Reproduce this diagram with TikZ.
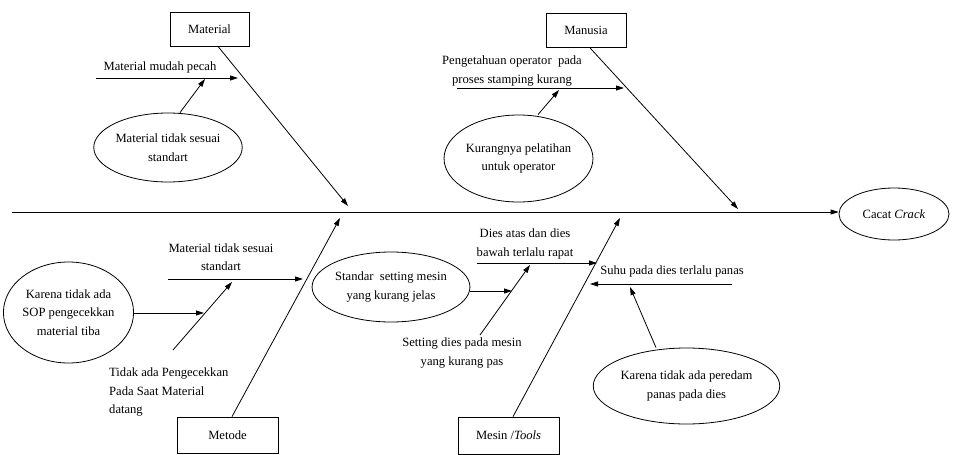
\documentclass[tikz,border=0pt]{standalone}
\usepackage{fontspec}
\setmainfont{Liberation Serif}
\usetikzlibrary{arrows.meta,shapes.geometric}
\begin{document}
\begin{tikzpicture}[x=1pt,y=-1pt,
  every node/.style={font=\fontsize{12.6}{18.5}\selectfont, inner sep=0pt},
  lbl/.style={align=center},
  catbox/.style={draw, line width=0.8pt, minimum width=#1, minimum height=34pt},
  cause/.style={draw, ellipse, line width=0.8pt, align=center},
  arr/.style={line width=0.8pt, -{Triangle[length=8pt,width=5pt]}},
  ln/.style={line width=0.8pt}]
\useasboundingbox (0,0) rectangle (953,455);

% effect
\node[cause, minimum width=110pt, minimum height=52pt] (eff) at (894,214) {Cacat \textit{Crack}};
\coordinate (sp0) at (12,212);
\draw[arr] (sp0) -- (sp0 -| eff.west);

% category boxes
\node[catbox=79pt] (mat) at (209.5,29) {Material};
\node[catbox=80pt] (man) at (586,30.5) {Manusia};
\node[catbox=101pt, minimum height=36pt] (met) at (227.5,435) {Metode};
\node[catbox=101pt, minimum height=37pt] (mes) at (508.5,435.5) {Mesin /\textit{Tools}};

% main bones
\coordinate (matT) at (348,206);
\coordinate (manT) at (738,209);
\coordinate (metT) at (340,218);
\coordinate (mesT) at (620,218);
\draw[arr] (mat.south -| 218,0) -- (matT);
\draw[arr] (man.south -| 590,0) -- (manT);
\draw[arr] (met.north -| 232,0) -- (metT);
\draw[arr] (mes.north -| 513,0) -- (mesT);

% Material
\node[lbl] (m1) at (160,67) {Material mudah pecah};
\coordinate (m1a) at (96,78);
\coordinate (m1b) at (238,78);
\draw[arr] (m1a) -- (m1b);
\node[cause, minimum width=139pt, minimum height=69pt] (m2) at (168,147.5) {Material tidak sesuai\\standart};
\coordinate (m2t) at (205,79);
\draw[arr] (m2.north -| 180,0) -- (m2t);

% Manusia
\node[lbl] (h1) at (512,71) {Pengetahuan operator~ pada\\proses stamping kurang};
\coordinate (h1a) at (457,88);
\coordinate (h1b) at (624,88);
\draw[arr] (h1a) -- (h1b);
\node[cause, minimum width=123pt, minimum height=87pt] (h2) at (518.5,158.5) {Kurangnya pelatihan\\untuk operator};
\coordinate (h2t) at (559,90);
\draw[arr] (h2.north -| 538,0) -- (h2t);

% Metode
\node[lbl] (d1) at (221,257) {Material tidak sesuai\\standart};
\coordinate (d1a) at (168,279);
\coordinate (d1b) at (303,279);
\draw[arr] (d1a) -- (d1b);
\node[align=left, anchor=west] (d2) at (109,392) {Tidak ada Pengecekkan\\Pada Saat Material\\datang};
\coordinate (d2a) at (173,350);
\coordinate (d2b) at (232,282);
\draw[arr] (d2a) -- (d2b);
\node[cause, minimum width=113pt, minimum height=101pt] (d3) at (68.5,312.5) {Karena tidak ada\\SOP pengecekkan\\material tiba};
\coordinate (d3t) at (204,313);
\draw[arr] (d3.east |- d3t) -- (d3t);

% Mesin / Tools
\node[lbl] (s1) at (525,244) {Dies atas dan dies\\bawah terlalu rapat};
\coordinate (s1a) at (477,263);
\coordinate (s1b) at (597,263);
\draw[arr] (s1a) -- (s1b);
\node[lbl] (s2) at (462,353) {Setting dies pada mesin\\yang kurang pas};
\coordinate (s2a) at (480,335);
\coordinate (s2b) at (530,265);
\draw[arr] (s2a) -- (s2b);
\node[cause, minimum width=136pt, minimum height=70pt] (s3) at (391,287) {Standar~ setting mesin\\yang kurang jelas};
\coordinate (s3t) at (512,291);
\draw[arr] (s3.east |- s3t) -- (s3t);
\node[lbl] (s4) at (672,271) {Suhu pada dies terlalu panas};
\coordinate (s4a) at (732,284);
\coordinate (s4b) at (590,284);
\draw[arr] (s4a) -- (s4b);
\node[cause, minimum width=143pt, minimum height=76pt] (s5) at (686.5,386) {Karena tidak ada peredam\\panas pada dies};
\coordinate (s5t) at (630,287);
\draw[arr] (s5.north -| 656,0) -- (s5t);
\end{tikzpicture}
\end{document}
